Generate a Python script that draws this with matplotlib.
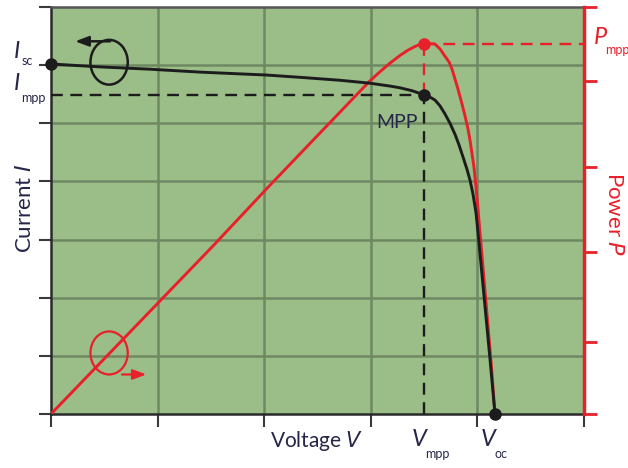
import matplotlib
matplotlib.use("Agg")
import matplotlib.pyplot as plt
from matplotlib.patches import Ellipse

# ---- data ----
# I-V curve: voltage (grid units) and current (grid units)
iv_v = [0.0, 0.46, 0.93, 1.40, 2.02, 2.34, 2.71, 2.99, 3.18, 3.274, 3.387, 3.499, 3.555, 3.602,
        3.649, 3.696, 3.743, 3.790, 3.827, 3.865, 3.902, 3.931, 3.959, 3.987, 4.015, 4.062,
        4.118, 4.165]
iv_i = [6.02, 5.97, 5.93, 5.88, 5.83, 5.79, 5.74, 5.69, 5.64, 5.61, 5.56, 5.49, 5.45, 5.40,
        5.30, 5.16, 5.00, 4.81, 4.63, 4.42, 4.21, 4.02, 3.78, 3.46, 2.94, 2.03, 0.95, 0.0]
# P-V curve: voltage and power (fraction of axis)
pv_v = [0.0, 1.52, 2.05, 2.99, 3.086, 3.180, 3.274, 3.349, 3.415, 3.462, 3.499, 3.555, 3.602,
        3.649, 3.696, 3.734, 3.762, 3.790, 3.818, 3.856, 3.884, 3.912, 3.931, 3.949, 3.968,
        3.987, 4.006, 4.043, 4.081, 4.128, 4.165]
pv_p = [0.0, 0.413, 0.561, 0.818, 0.841, 0.862, 0.881, 0.894, 0.903, 0.908, 0.910, 0.910, 0.909,
        0.897, 0.879, 0.865, 0.847, 0.823, 0.798, 0.761, 0.732, 0.700, 0.672, 0.640, 0.606,
        0.557, 0.502, 0.389, 0.273, 0.128, 0.0]
v_mpp = 3.499
i_mpp = 5.49
p_mpp = 0.910
i_sc = 6.02
v_oc = 4.165
x_ticks = [0, 1, 2, 3, 4, 5]
i_ticks = [0, 1, 2, 3, 4, 5, 6, 7]
p_ticks = [0.0, 0.177, 0.397, 0.608, 0.818, 1.0]

BG = "#9bbd88"
GRID = "#6e8862"
RED = "#e8202a"
DARK = "#1c1c1c"
TXT = "#26264a"

W, H = 628, 468
fig = plt.figure(figsize=(W / 100, H / 100), dpi=100)
ax = fig.add_axes([51 / W, (H - 414) / H, (584 - 51) / W, (414 - 7) / H])
ax.set_facecolor(BG)
ax.set_xlim(0, 5)
ax.set_ylim(0, 7)
ax.set_xticks(x_ticks)
ax.set_yticks(i_ticks)
ax.set_xticklabels([])
ax.set_yticklabels([])
ax.tick_params(axis="both", direction="out", length=9, width=1.5, color="#3a3a3a")
for v in x_ticks[1:-1]:
    ax.axvline(v, color=GRID, lw=1.8, zorder=1)
for v in i_ticks[1:-1]:
    ax.axhline(v, color=GRID, lw=1.8, zorder=1)
ax.spines["left"].set_color("#2a2a2a")
ax.spines["left"].set_linewidth(1.8)
ax.spines["bottom"].set_color("#2a2a2a")
ax.spines["bottom"].set_linewidth(1.8)
ax.spines["top"].set_color("#555555")
ax.spines["top"].set_linewidth(1.8)
ax.spines["right"].set_visible(False)

ax2 = ax.twinx()
ax2.set_ylim(0, 1.0)
ax2.set_yticks(p_ticks)
ax2.set_yticklabels([])
ax2.tick_params(axis="y", direction="out", length=9, width=2, color=RED)
for s in ["left", "top", "bottom"]:
    ax2.spines[s].set_visible(False)
ax2.spines["right"].set_color(RED)
ax2.spines["right"].set_linewidth(2.5)

DASH = (0, (5, 3.2))
# dashed guide lines
ax.plot([0, v_mpp], [i_mpp, i_mpp], color=DARK, lw=1.7, ls=DASH, zorder=3)
ax.plot([v_mpp, v_mpp], [0, i_mpp], color=DARK, lw=1.7, ls=DASH, zorder=3)
ax2.plot([v_mpp, 5], [p_mpp, p_mpp], color=RED, lw=1.7, ls=DASH, zorder=3)
ax2.plot([v_mpp, v_mpp], [p_mpp, i_mpp / 7], color=RED, lw=1.7, ls=DASH, zorder=3)

# curves
ax2.plot(pv_v, pv_p, color=RED, lw=2.1, zorder=4, solid_joinstyle="round")
ax2.plot([v_mpp], [p_mpp], "o", color=RED, ms=8, zorder=6)
ax2.plot(iv_v, [i / 7 for i in iv_i], color=DARK, lw=2.1, zorder=5, solid_joinstyle="round")
ax2.plot([0, v_mpp, v_oc], [i_sc / 7, i_mpp / 7, 0], "o", color=DARK, ms=8, zorder=7, clip_on=False)

# circular arrows
ax.add_patch(Ellipse((0.545, 6.05), 0.35, 0.77, fill=False, ec=DARK, lw=1.8, zorder=6))
ax.annotate("", xy=(0.20, 6.41), xytext=(0.58, 6.41),
            arrowprops=dict(arrowstyle="-|>,head_length=0.8,head_width=0.3", color=DARK, lw=1.8), zorder=6)
ax.add_patch(Ellipse((0.545, 1.05), 0.35, 0.74, fill=False, ec=RED, lw=1.6, zorder=6))
ax.annotate("", xy=(0.92, 0.68), xytext=(0.64, 0.68),
            arrowprops=dict(arrowstyle="-|>,head_length=0.8,head_width=0.3", color=RED, lw=1.6), zorder=6)

def ftext(x, y, s, **kw):
    fig.text(x / W, (H - y) / H, s, **kw)

FONT = "Lato"
# left labels
ftext(14, 52, "I", fontsize=17, style="italic", color=TXT, family=FONT, va="center", ha="left")
ftext(22, 61, "sc", fontsize=9, color=TXT, family=FONT, va="center", ha="left")
ftext(14, 84, "I", fontsize=17, style="italic", color=TXT, family=FONT, va="center", ha="left")
ftext(21, 98, "mpp", fontsize=9, color=TXT, family=FONT, va="center", ha="left")
ftext(25, 208, "Current $\\it{I}$", fontsize=16, rotation=90, color=TXT, family=FONT, va="center", ha="center")
# bottom labels
ftext(317, 441, "Voltage $\\it{V}$", fontsize=15, color=TXT, family=FONT, va="center", ha="center")
ftext(419, 440, "V", fontsize=17, style="italic", color=TXT, family=FONT, va="center", ha="center")
ftext(425, 454, "mpp", fontsize=9, color=TXT, family=FONT, va="center", ha="left")
ftext(488, 440, "V", fontsize=17, style="italic", color=TXT, family=FONT, va="center", ha="center")
ftext(494, 454, "oc", fontsize=9, color=TXT, family=FONT, va="center", ha="left")
# MPP
ftext(397, 123, "MPP", fontsize=14, color=TXT, family=FONT, va="center", ha="center")
# right labels
ftext(600, 38, "P", fontsize=17, style="italic", color=RED, family=FONT, va="center", ha="center")
ftext(605, 50, "mpp", fontsize=9, color=RED, family=FONT, va="center", ha="left")
ftext(614, 214, "Power $\\it{P}$", fontsize=16, rotation=-90, color=RED, family=FONT, va="center", ha="center")

fig.savefig("out.png", dpi=100, facecolor="white")
